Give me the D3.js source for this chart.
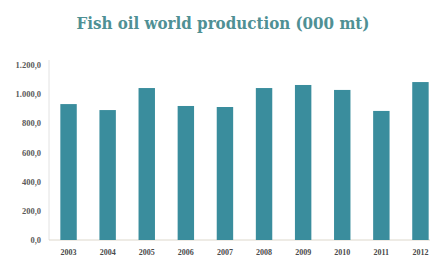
<!DOCTYPE html>
<html>
<head>
<meta charset="utf-8">
<script src="https://cdn.jsdelivr.net/npm/d3@7"></script>
<style>
  body { margin: 0; background: #fff; }
  svg { display: block; }
</style>
</head>
<body>
<div id="chart"></div>
<script>
// data
let years = ["2003", "2004", "2005", "2006", "2007", "2008", "2009", "2010", "2011", "2012"];
let production = [932, 891, 1042, 919, 912, 1042, 1063, 1029, 885, 1083];
let y_ticks = [0, 200, 400, 600, 800, 1000, 1200];

let width = 430, height = 260;
let margin = {left: 49, right: -10, top: 65, bottom: 20};

let svg = d3.select("#chart").append("svg")
    .attr("width", width)
    .attr("height", height);

// european number format: 1.200,0
let fmt = d3.formatLocale({decimal: ",", thousands: ".", grouping: [3], currency: ["", ""]}).format(",.1f");

let x = d3.scaleBand()
    .domain(years)
    .range([margin.left, width - margin.right])
    .paddingInner(0.58)
    .paddingOuter(0.29);

let y = d3.scaleLinear()
    .domain([0, 1200])
    .range([height - margin.bottom, margin.top]);

// title
svg.append("text")
    .attr("x", 223)
    .attr("y", 29)
    .attr("text-anchor", "middle")
    .attr("font-family", "'DejaVu Serif', serif")
    .attr("font-weight", "bold")
    .attr("font-size", 16)
    .attr("fill", "#4f9094")
    .attr("textLength", 293)
    .attr("lengthAdjust", "spacingAndGlyphs")
    .text("Fish oil world production (000 mt)");

// left axis line
svg.append("line")
    .attr("x1", margin.left).attr("x2", margin.left)
    .attr("y1", y(1200) - 5).attr("y2", y(0))
    .attr("stroke", "#e2e2e2");

// bottom axis line
svg.append("line")
    .attr("x1", margin.left).attr("x2", width)
    .attr("y1", y(0)).attr("y2", y(0))
    .attr("stroke", "#ddd8cc");

// y tick labels
svg.selectAll(".ytick")
    .data(y_ticks)
    .enter().append("text")
    .attr("class", "ytick")
    .attr("x", 41)
    .attr("y", d => y(d) + 3)
    .attr("text-anchor", "end")
    .attr("font-family", "'Liberation Serif', serif")
    .attr("font-weight", "bold")
    .attr("font-size", 8.5)
    .attr("fill", "#5a5a5a")
    .text(d => fmt(d));

// bars
svg.selectAll(".bar")
    .data(production)
    .enter().append("rect")
    .attr("class", "bar")
    .attr("x", (d, i) => x(years[i]))
    .attr("y", d => y(d))
    .attr("width", x.bandwidth())
    .attr("height", d => y(0) - y(d))
    .attr("fill", "#3a8d9d");

// year labels
svg.selectAll(".xtick")
    .data(years)
    .enter().append("text")
    .attr("class", "xtick")
    .attr("x", d => x(d) + x.bandwidth() / 2)
    .attr("y", 255)
    .attr("text-anchor", "middle")
    .attr("font-family", "'Liberation Serif', serif")
    .attr("font-weight", "bold")
    .attr("font-size", 8)
    .attr("fill", "#4a4a4a")
    .text(d => d);
</script>
</body>
</html>
